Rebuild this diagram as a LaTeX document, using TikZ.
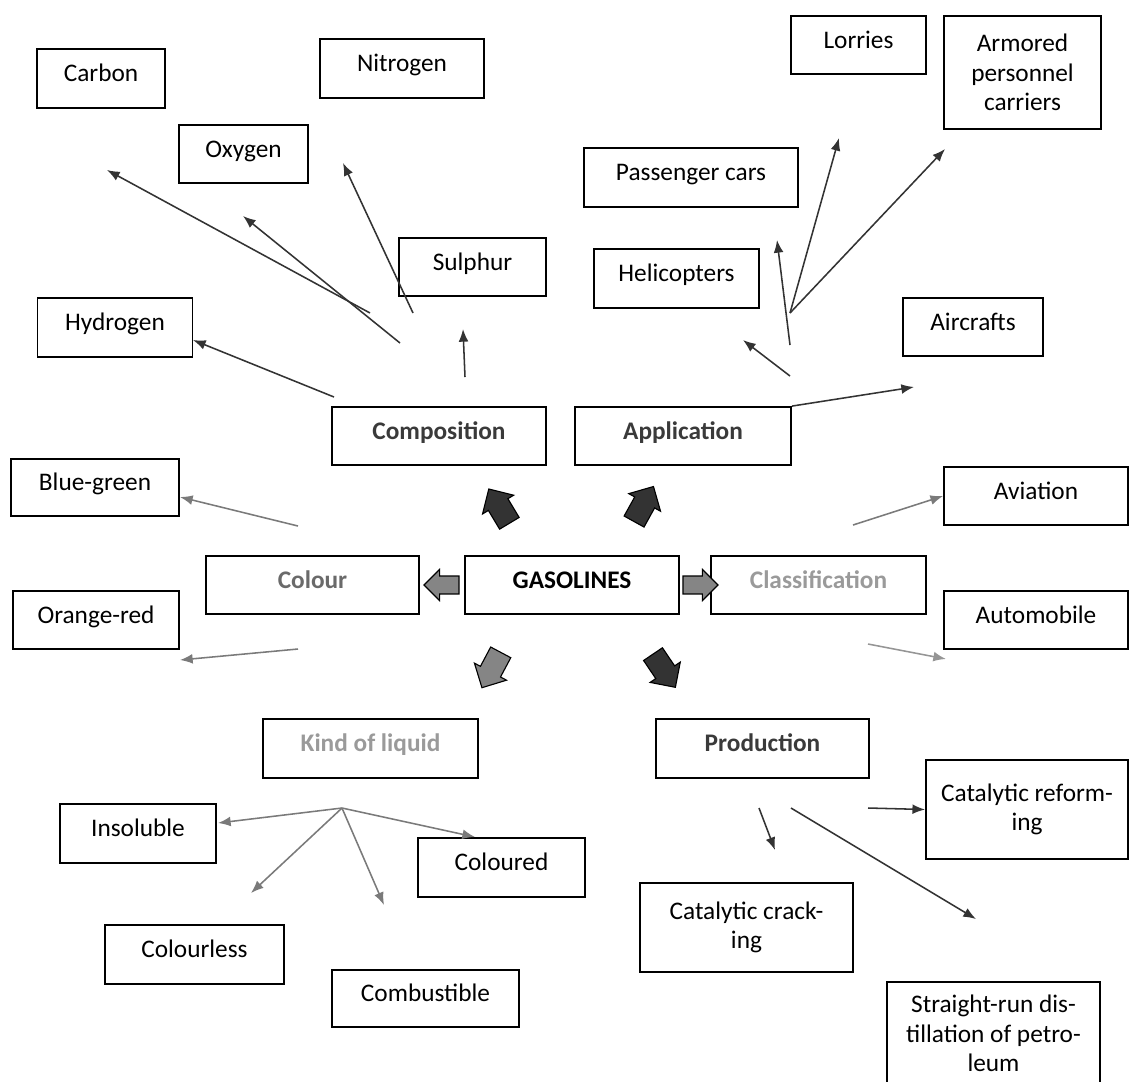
\documentclass[tikz,border=0pt]{standalone}
\usepackage{fontspec}
\setmainfont{Carlito}
\usepackage{tikz}
\usetikzlibrary{arrows.meta,shapes.arrows}

\definecolor{linedark}{HTML}{333333}
\definecolor{linegray}{HTML}{7A7A7A}
\definecolor{textdark}{HTML}{3A3A3A}
\definecolor{textgray}{HTML}{6A6A6A}
\definecolor{textlight}{HTML}{9A9A9A}
\definecolor{fillgray}{HTML}{858585}

\begin{document}
\begin{tikzpicture}[x=0.025cm, y=-0.025cm]
        \tikzset{
            box/.style={draw, line width=1.3pt, inner sep=0pt, align=center, font=\fontsize{18}{21}\selectfont},
            one/.style={box, text height=12pt, text depth=7.4pt},
            sz/.style 2 args={minimum width=#1*0.025cm, minimum height=#2*0.025cm},
            head/.style={one, font=\fontsize{18}{21}\selectfont\bfseries},
            link/.style={line width=1.1pt, draw=linedark, -{Latex[length=9pt, width=7pt]}},
            glink/.style={link, draw=linegray},
            blk/.style={single arrow, draw=black, line width=0.8pt, inner xsep=0pt, minimum width=0pt},
            blkh/.style={blk, minimum height=0.875cm, inner ysep=0.21cm, single arrow head extend=0.165cm},
            blkd/.style={blk, minimum height=1.0cm, inner ysep=0.27cm, single arrow head extend=0.17cm}
        }
        \useasboundingbox (0, 0) rectangle (1129, 1081);

        % centre
        \node[head, sz={214}{58}] (gas) at (572, 585) {GASOLINES};
        \node[head, sz={214}{58}, text=textdark] (comp) at (439, 436) {Composition};
        \node[head, sz={216}{58}, text=textdark] (appl) at (683, 436) {Application};
        \node[head, sz={213}{58}, text=textgray] (col) at (312.5, 585) {Colour};
        \node[head, sz={215}{58}, text=textlight] (cls) at (818.5, 585) {Classification};
        \node[head, sz={215}{59}, text=textlight] (kind) at (370.5, 748.5) {Kind of liquid};
        \node[head, sz={213}{59}, text=textdark] (prod) at (762.5, 748.5) {Production};

        \node[blkd, fill=linedark, rotate=121] (bcomp) at (502, 511) {};
        \node[blkd, fill=linedark, rotate=61] (bappl) at (641, 509) {};
        \node[blkh, fill=fillgray, rotate=180] (bcol) at (446, 585) {};
        \node[blkh, fill=fillgray] (bcls) at (696, 585) {};
        \node[blkd, fill=fillgray, rotate=-118] (bkind) at (494, 665) {};
        \node[blkd, fill=linedark, rotate=-56] (bprod) at (661, 666) {};

        % composition
        \node[one, sz={128}{59}] (carbon) at (101, 78.5) {Carbon};
        \node[one, sz={164}{59}] (nitro) at (402, 68.5) {Nitrogen};
        \node[one, sz={129}{58}] (oxy) at (243.5, 154) {Oxygen};
        \node[one, sz={147}{58}] (sulph) at (472.5, 267) {Sulphur};
        \node[one, sz={155}{59}] (hydro) at (115, 327.5) {Hydrogen};

        \coordinate (cCarbon) at (370, 313);
        \coordinate (tCarbon) at (107, 170);
        \coordinate (cOxy) at (400, 343);
        \coordinate (tOxy) at (243, 216);
        \coordinate (cNitro) at (413, 313);
        \coordinate (tNitro) at (343, 163);
        \coordinate (cHydro) at (334, 397);
        \coordinate (tHydro) at (193, 340);
        \coordinate (cSulph) at (465, 377);
        \coordinate (tSulph) at (463, 329);

        \draw[link] (cCarbon) -- (tCarbon);
        \draw[link] (cOxy) -- (tOxy);
        \draw[link] (cNitro) -- (tNitro);
        \draw[link] (cHydro) -- (tHydro);
        \draw[link] (cSulph) -- (tSulph);

        % application
        \node[one, sz={135}{58}] (lorry) at (858.5, 45) {Lorries};
        \node[box, sz={157}{113}] (armor) at (1022.5, 72.5) {Armored\\personnel\\carriers};
        \node[one, sz={214}{59}] (pass) at (691, 177.5) {Passenger cars};
        \node[one, sz={165}{59}] (heli) at (676.5, 278.5) {Helicopters};
        \node[one, sz={140}{58}] (air) at (973, 327) {Aircrafts};

        \coordinate (cFan) at (790, 313);
        \coordinate (tLorry) at (839, 138);
        \coordinate (tArmor) at (945, 149);
        \coordinate (cPass) at (790, 345);
        \coordinate (tPass) at (777, 240);
        \coordinate (cHeli) at (790, 376);
        \coordinate (tHeli) at (743, 340);
        \coordinate (tAir) at (914, 387);

        \draw[link] (cFan) -- (tLorry);
        \draw[link] (cFan) -- (tArmor);
        \draw[link] (cPass) -- (tPass);
        \draw[link] (cHeli) -- (tHeli);
        \draw[link] (appl.north east) -- (tAir);

        % colour
        \node[one, sz={168}{57}] (blue) at (95, 487.5) {Blue-green};
        \node[one, sz={166}{58}] (orange) at (96, 620) {Orange-red};

        \coordinate (cBlue) at (298, 526);
        \coordinate (tBlue) at (180, 497);
        \coordinate (cOrange) at (298, 649);
        \coordinate (tOrange) at (180, 660);

        \draw[glink] (cBlue) -- (tBlue);
        \draw[glink] (cOrange) -- (tOrange);

        % classification
        \node[one, sz={184}{58}] (avia) at (1036, 496) {Aviation};
        \node[one, sz={184}{58}] (auto) at (1036, 620) {Automobile};

        \coordinate (cAvia) at (853, 525);
        \coordinate (cAuto) at (868, 644);
        \coordinate (tAuto) at (946, 659);

        \draw[glink] (cAvia) -- (avia.west);
        \draw[glink, draw=linegray!80] (cAuto) -- (tAuto);

        % kind of liquid
        \node[one, sz={156}{59}] (insol) at (138, 833.5) {Insoluble};
        \node[one, sz={167}{59}] (coloured) at (501.5, 867.5) {Coloured};
        \node[one, sz={179}{59}] (colourless) at (194.5, 954.5) {Colourless};
        \node[one, sz={187}{57}] (combust) at (425.5, 998.5) {Combustible};

        \coordinate (cKind) at (342, 808);
        \coordinate (tInsol) at (218, 823);
        \coordinate (tColoured) at (475, 837);
        \coordinate (tColourless) at (251, 893);
        \coordinate (tCombust) at (384, 905);

        \draw[glink] (cKind) -- (tInsol);
        \draw[glink] (cKind) -- (tColoured);
        \draw[glink] (cKind) -- (tColourless);
        \draw[glink] (cKind) -- (tCombust);

        % production
        \node[box, sz={202}{99}] (reform) at (1027, 809.5) {Catalytic reform-\\ing};
        \node[box, sz={213}{89}] (crack) at (746.5, 927.5) {Catalytic crack-\\ing};
        \node[box, sz={213}{103}] (straight) at (993.5, 1033.5) {Straight-run dis-\\tillation of petro-\\leum};

        \coordinate (cCrack) at (759, 808);
        \coordinate (tCrack) at (775, 850);
        \coordinate (cStraight) at (791, 808);
        \coordinate (tStraight) at (976, 919);
        \coordinate (cReform) at (868, 808);

        \draw[link] (cCrack) -- (tCrack);
        \draw[link] (cStraight) -- (tStraight);
        \draw[link] (cReform) -- (reform.west);

    \end{tikzpicture}
\end{document}
